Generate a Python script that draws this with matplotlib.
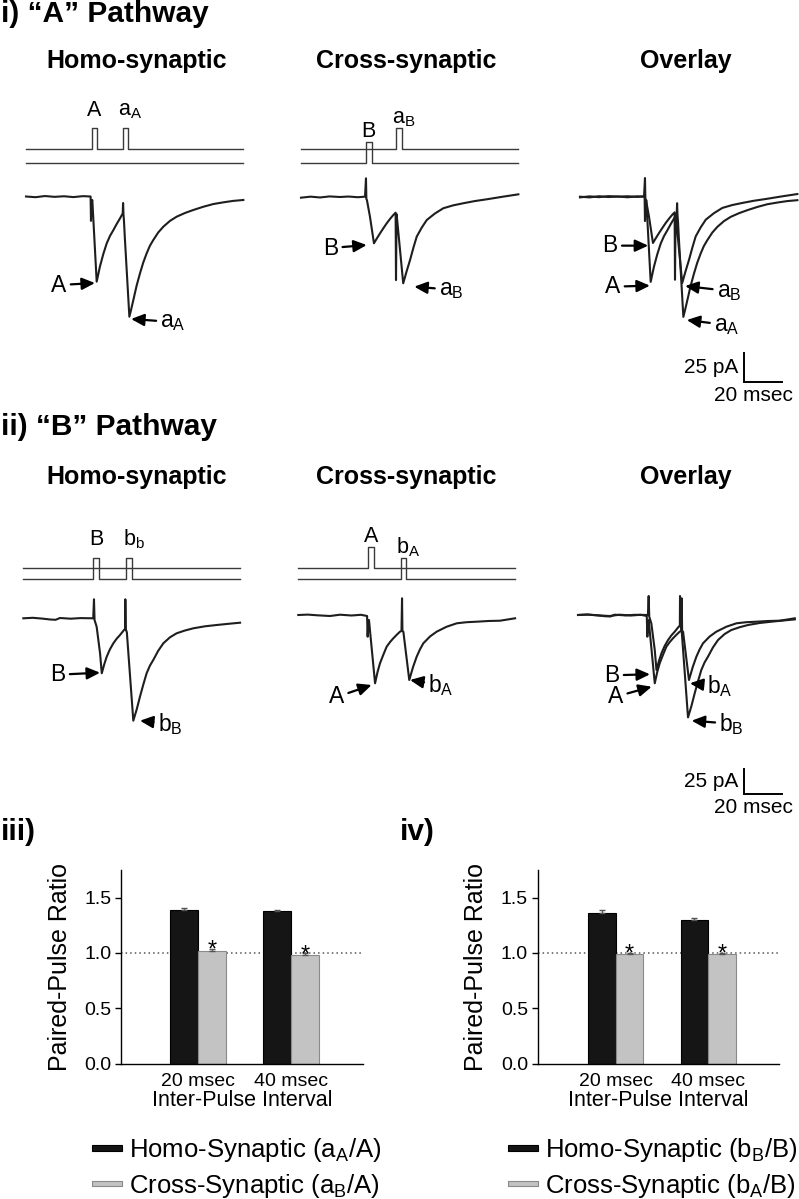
import numpy as np
import matplotlib
matplotlib.use('Agg')
import matplotlib.pyplot as plt
import matplotlib.patches as mpatches
from matplotlib.legend_handler import HandlerPatch

plt.rcParams['font.family'] = ['Liberation Sans', 'DejaVu Sans']
plt.rcParams['mathtext.default'] = 'regular'

# ---- data: whole-cell currents (ms, pA relative to baseline) ----
# "A" pathway, homo-synaptic (A then a_A)
homoA_t = [0, 5, 10, 15, 20, 25, 30, 34.0, 34.2, 34.5, 34.9, 37.2, 38.9, 40.7, 42.5,
           44.2, 46.0, 47.8, 49.5, 50.6, 50.9, 51.1, 51.3, 51.6, 52.0, 54.4, 55.4,
           56.5, 58.2, 60.0, 61.7, 63.5, 65.2, 67.0, 69.6, 72.3, 75.8, 79.3, 83.7,
           88.1, 93.4, 98.6, 104.0, 109.0, 114.4]
homoA_pA = [0, -0.6, 0.4, -0.3, 0.2, -0.5, 0.3, 0, -21, -5, -3, -73.4, -60.5, -49.5,
            -40.3, -34, -28.9, -23.5, -18.8, -15.5, -14.5, -5.6, -15.1, -22, -35,
            -103.6, -97, -89.2, -77, -66.2, -57, -49.0, -42.5, -37.5, -31, -26.0,
            -21, -17.4, -14.2, -11.6, -8.8, -6.5, -5.0, -3.8, -3.0]
# "A" pathway, cross-synaptic (B then a_B)
crossA_t = [0, 5, 10, 15, 20.5, 25, 30, 33.7, 34.2, 34.4, 34.7, 36.3, 38.4, 40.0,
            41.6, 43.4, 45.1, 46.9, 48.6, 49.8, 50.0, 50.3, 50.7, 53.8, 55.6, 57.4,
            59.2, 60.9, 63.5, 66.2, 70.5, 74.9, 80.1, 85.4, 91.5, 97.7, 106, 114.4]
crossA_pA = [-0.6, 0.3, -0.4, 0.5, 0, 0.4, -0.2, 0.3, 16.1, -1.7, -2.6, -17, -39.9,
             -35.5, -31.3, -26.8, -22.7, -18.8, -15.5, -13.5, -71.6, -14.7, -21.3,
             -74.4, -64, -54.3, -43.5, -34.2, -26.5, -19.8, -14.2, -9.7, -7.2, -5.4,
             -3.5, -2.0, 0.2, 2.3]
# "B" pathway, homo-synaptic (B then b_B)
homoB_t = [0, 5, 10, 14.1, 17, 19.3, 25, 30, 36.8, 37.2, 37.5, 38.6, 40.4, 41.3,
           42.6, 43.9, 45.6, 47.4, 49.1, 50.9, 53.0, 53.6, 53.7, 53.9, 54.5, 57.9,
           59.7, 61.4, 63.2, 64.9, 66.6, 68.4, 71.0, 73.7, 77.2, 80.7, 85.1, 89.5,
           95.6, 101.8, 108, 114.1]
homoB_pA = [0, 0.5, -0.3, -1.2, -1.5, 0.3, -0.4, 0.2, 0, 19, -1.7, -8.4, -35, -55,
            -46, -38.4, -31, -25, -20.5, -16.7, -11.7, -10.7, 19, -10.7, -14, -102.4,
            -91, -78.4, -66, -55, -47.5, -41.7, -32.5, -25, -19, -15, -12.2, -10,
            -8, -6.7, -5.5, -4.4]
# "B" pathway, cross-synaptic (A then b_A)
crossB_t = [0, 5, 10, 16.7, 22, 28, 33, 36.2, 36.5, 36.8, 37.2, 40.4, 41.7, 43.0,
            44.8, 46.5, 48.3, 50.0, 51.8, 53.5, 54.3, 54.6, 54.8, 55.3, 58.4, 60.4,
            62.3, 64.0, 65.8, 69.3, 72.8, 78.1, 83.4, 88.6, 93.9, 100, 106.2, 114.1]
crossB_pA = [0, 0.4, -0.3, -1, 0.3, -0.5, 0.2, -1, -21.7, -7, -5, -68.3, -57, -48.3,
             -39.5, -31.7, -27, -23.3, -19.8, -16.7, -16, 16.7, -16, -16.7, -65, -52,
             -41.7, -34.5, -28.3, -21.5, -16.7, -11.7, -8.3, -7.2, -6.7, -6.0, -5.7,
             -3.3]

# stimulus pulses: (onset ms, channel, label)
stim_homoA = [(34.6, 'A', 'A'), (50.9, 'A', r'a$_A$')]
stim_crossA = [(34.2, 'B', 'B'), (50.0, 'A', r'a$_B$')]
stim_homoB = [(36.8, 'B', 'B'), (54.1, 'B', r'b$_b$')]
stim_crossB = [(36.8, 'A', 'A'), (53.9, 'B', r'b$_A$')]

# paired-pulse ratios
intervals = ['20 msec', '40 msec']
ppr_A_homo = [1.39, 1.38]
ppr_A_homo_err = [0.015, 0.012]
ppr_A_cross = [1.02, 0.985]
ppr_A_cross_err = [0.012, 0.01]
ppr_B_homo = [1.365, 1.30]
ppr_B_homo_err = [0.02, 0.02]
ppr_B_cross = [0.99, 0.99]
ppr_B_cross_err = [0.01, 0.012]

W, H = 799, 1199
PXMS = 1.9
TRACE_C = '#1e1e1e'
fig = plt.figure(figsize=(W / 100, H / 100), dpi=100)


def px_axes(left, top, right, bottom):
    return fig.add_axes([left / W, 1 - bottom / H, (right - left) / W, (bottom - top) / H])


def trace_axes(x0, y0, pxpa, ilim=(-140, 30)):
    ax = px_axes(x0 - 2 * PXMS, y0 - ilim[1] * pxpa, x0 + 116 * PXMS, y0 - ilim[0] * pxpa)
    ax.set_xlim(-2, 116)
    ax.set_ylim(ilim)
    ax.axis('off')
    return ax


def arrow(ax, lab, t, i, dx, dy):
    ax.annotate(lab, (t, i), xytext=(dx * 0.72, dy * 0.72), textcoords='offset points',
                ha='center', va='center', fontsize=16.5,
                arrowprops=dict(arrowstyle='-|>,head_length=0.65,head_width=0.3',
                                mutation_scale=12, color='k', lw=1.6,
                                shrinkA=1, shrinkB=0))


def draw_stim(x0, y_low, spacing, pulses, gap):
    ax = px_axes(x0 - 2 * PXMS, y_low - 60, x0 + 116 * PXMS, y_low + 6)
    ax.set_xlim(-2, 116)
    ax.set_ylim(-6, 60)
    ax.axis('off')
    pulse_h, pulse_w = 21, 3.0
    for ch, lvl in (('A', spacing), ('B', 0.0)):
        xs, ys = [0.0], [lvl]
        for t_on, c, lab in pulses:
            if c != ch:
                continue
            xs += [t_on, t_on, t_on + pulse_w, t_on + pulse_w]
            ys += [lvl, lvl + pulse_h, lvl + pulse_h, lvl]
        xs.append(114)
        ys.append(lvl)
        ax.plot(xs, ys, color='#3a3a3a', lw=1.0)
    for t_on, c, lab in pulses:
        lvl = spacing if c == 'A' else 0.0
        dx = 3.5 if '$' in lab else 0
        ax.annotate(lab, (t_on + pulse_w / 2, lvl + pulse_h + gap), xytext=(dx, 0),
                    textcoords='offset points', ha='center', va='baseline', fontsize=15.5)


def scale_bar(ax, t, i):
    ax.plot([t, t, t + 20], [i + 25, i, i], color='k', lw=1.4, solid_joinstyle='miter')
    ax.annotate('25 pA', (t, i + 12.5), xytext=(-4, 0), textcoords='offset points',
                ha='right', va='center', fontsize=15)
    ax.annotate('20 msec', (t + 25.8, i), xytext=(0, -3), textcoords='offset points',
                ha='right', va='top', fontsize=15)


def ftext(x, y, s, **kw):
    fig.text(x / W, 1 - y / H, s, **kw)


# ---- section and column titles ----
ftext(1, 22, 'i) \u201cA\u201d Pathway', fontsize=21.5, weight='bold', va='baseline')
ftext(1, 435, 'ii) \u201cB\u201d Pathway', fontsize=21.5, weight='bold', va='baseline')
ftext(1, 840, 'iii)', fontsize=21.5, weight='bold', va='baseline')
ftext(400, 840, 'iv)', fontsize=21.5, weight='bold', va='baseline')
for yb in (68, 484):
    ftext(136.5, yb, 'Homo-synaptic', fontsize=18, weight='bold', ha='center', va='baseline')
    ftext(406, yb, 'Cross-synaptic', fontsize=18, weight='bold', ha='center', va='baseline')
    ftext(686, yb, 'Overlay', fontsize=18, weight='bold', ha='center', va='baseline')

# ---- i) "A" pathway ----
draw_stim(26, 163.3, 14, stim_homoA, 12.6)
draw_stim(301, 163, 14, stim_crossA, 5)

ax = trace_axes(26, 196.5, 1.16)
ax.plot(homoA_t, homoA_pA, color=TRACE_C, lw=1.5)
arrow(ax, 'A', 36.3, -74.6, -36, -2)
arrow(ax, r'a$_A$', 55.3, -105.6, 42, -3)

ax = trace_axes(301, 197, 1.16)
ax.plot(crossA_t, crossA_pA, color=TRACE_C, lw=1.5)
arrow(ax, 'B', 34.6, -41.4, -36, -3)
arrow(ax, r'a$_B$', 59.6, -77.3, 37, -3)

ax = trace_axes(580, 196.7, 1.16, ilim=(-170, 30))
ax.plot(homoA_t, homoA_pA, color=TRACE_C, lw=1.5)
ax.plot(crossA_t, crossA_pA, color=TRACE_C, lw=1.5)
arrow(ax, 'B', 35.9, -42.2, -38, 0)
arrow(ax, 'A', 36.8, -76.7, -37, -1)
arrow(ax, r'a$_B$', 55.3, -77, 44, -5)
arrow(ax, r'a$_A$', 56.2, -106.3, 40, -5)
scale_bar(ax, 86.3, -159.7)

# ---- ii) "B" pathway ----
draw_stim(23.3, 579, 11.3, stim_homoB, 12.7)
draw_stim(298.3, 579, 11.3, stim_crossB, 5)

ax = trace_axes(23.3, 618.3, 1.0)
ax.plot(homoB_t, homoB_pA, color=TRACE_C, lw=1.5)
arrow(ax, 'B', 40.4, -54.4, -42, -2)
arrow(ax, r'b$_B$', 61.4, -102.4, 30, -3)

ax = trace_axes(298.3, 615, 1.0)
ax.plot(crossB_t, crossB_pA, color=TRACE_C, lw=1.5)
arrow(ax, 'A', 38.6, -70, -35, -12)
arrow(ax, r'b$_A$', 58.8, -65, 31, -5)

ax = trace_axes(578, 615, 1.0, ilim=(-190, 30))
ax.plot(homoB_t, homoB_pA, color=TRACE_C, lw=1.5)
ax.plot(crossB_t, crossB_pA, color=TRACE_C, lw=1.5)
arrow(ax, 'B', 37.9, -59.3, -38, -1)
arrow(ax, 'A', 38.8, -71.7, -36, -10)
arrow(ax, r'b$_A$', 58.9, -68.3, 30, -3)
arrow(ax, r'b$_B$', 59.8, -105.7, 40, -3)
scale_bar(ax, 87.4, -179.3)


def thin_patch(legend, orig_handle, xdescent, ydescent, width, height, fontsize):
    hh = 3.8
    return mpatches.Rectangle((-xdescent, -ydescent + (height - hh) / 2), width, hh)


# ---- iii) / iv) paired-pulse ratio bars ----
def ppr_panel(left, right, xlo, xhi, homo, homo_err, cross, cross_err, labels, leg_x):
    ax = px_axes(left, 870, right, 1063.5)
    x = np.arange(len(intervals))
    w = 0.3
    b1 = ax.bar(x - w / 2, homo, w, color='#151515', edgecolor='#000000', lw=0.8,
                yerr=[np.zeros(len(homo)), homo_err],
                error_kw=dict(ecolor='#555555', elinewidth=1, capsize=2.5, capthick=1))
    b2 = ax.bar(x + w / 2, cross, w, color='#c3c3c3', edgecolor='#8a8a8a', lw=0.8,
                yerr=[np.zeros(len(cross)), cross_err],
                error_kw=dict(ecolor='#555555', elinewidth=1, capsize=2.5, capthick=1))
    for xi, v, e in zip(x + w / 2, cross, cross_err):
        ax.annotate('*', (xi, v + e), xytext=(0, -5.5), textcoords='offset points',
                    ha='center', va='baseline', fontsize=17)
    ax.axhline(1.0, color='#555555', lw=1.1, ls=(0, (1, 2)), zorder=0.5)
    ax.set_xlim(xlo, xhi)
    ax.set_ylim(0, 1.75)
    ax.set_yticks([0, 0.5, 1.0, 1.5])
    ax.set_yticklabels(['0.0', '0.5', '1.0', '1.5'])
    ax.set_xticks(x)
    ax.set_xticklabels(intervals)
    ax.tick_params(axis='y', direction='out', length=4, width=1, pad=3, labelsize=14)
    ax.tick_params(axis='x', length=0, pad=7, labelsize=14)
    for s in ('top', 'right'):
        ax.spines[s].set_visible(False)
    for s in ('left', 'bottom'):
        ax.spines[s].set_linewidth(1.0)
    ax.set_xlabel('Inter-Pulse Interval', fontsize=15.5, labelpad=0)
    ax.set_ylabel('Paired-Pulse Ratio', fontsize=18, labelpad=9)
    ax.legend(b1.patches[:1] + b2.patches[:1], labels, loc='upper left',
              bbox_to_anchor=(leg_x / W, 1 - 1136 / H),
              bbox_transform=fig.transFigure, frameon=False, fontsize=18.5,
              handler_map={mpatches.Rectangle: HandlerPatch(patch_func=thin_patch)},
              handlelength=1.15, handletextpad=0.28,
              labelspacing=0.3, borderpad=0, borderaxespad=0)


ppr_panel(121, 363, -0.834, 1.777, ppr_A_homo, ppr_A_homo_err, ppr_A_cross, ppr_A_cross_err,
          [r'Homo-Synaptic (a$_A$/A)', r'Cross-Synaptic (a$_B$/A)'], 92)
ppr_panel(537.7, 779, -0.842, 1.763, ppr_B_homo, ppr_B_homo_err, ppr_B_cross, ppr_B_cross_err,
          [r'Homo-Synaptic (b$_B$/B)', r'Cross-Synaptic (b$_A$/B)'], 508)

fig.savefig('out.png', dpi=100)
